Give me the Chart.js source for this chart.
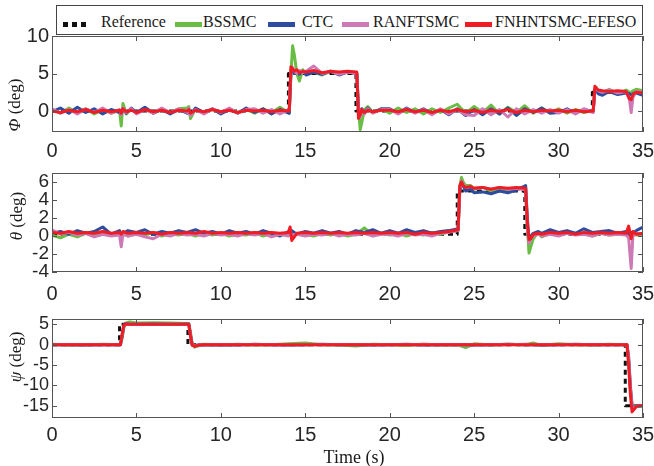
<!DOCTYPE html>
<html>
<head>
<meta charset="utf-8">
<script src="https://cdn.jsdelivr.net/npm/chart.js@4.4.0/dist/chart.umd.min.js"></script>
<style>
  body { margin: 0; width: 654px; height: 466px; position: relative; overflow: hidden; background: #fff;
         font-family: "Liberation Serif", "Times New Roman", serif; color: #1a1a1a; }
  canvas { position: absolute; left: 0; }
  .ytitle { position: absolute; font-size: 17px; white-space: nowrap; transform: translate(-50%, -50%) rotate(-90deg); }
  .legbox { position: absolute; left: 56px; top: 5px; width: 587px; height: 30px; box-sizing: border-box;
            border: 1px solid #444; background: #fff; }
  .sw { position: absolute; top: 22px; width: 27px; height: 5px; }
  .lt { position: absolute; top: 14px; font-size: 16px; line-height: 1; white-space: nowrap; }
  .xtitle { position: absolute; left: 354px; top: 457px; font-size: 18px; transform: translate(-50%, -50%); white-space: nowrap; }
</style>
</head>
<body>
<canvas id="cPhi" width="654" height="160" style="top:0px"></canvas>
<canvas id="cTheta" width="654" height="142" style="top:160px"></canvas>
<canvas id="cPsi" width="654" height="164" style="top:302px"></canvas>

<div class="legbox"></div>
<div class="sw" style="left:63px;background:repeating-linear-gradient(to right,#111 0 5px,transparent 5px 9px)"></div>
<div class="lt" style="left:101px">Reference</div>
<div class="sw" style="left:175px;background:#69bd45"></div>
<div class="lt" style="left:203px">BSSMC</div>
<div class="sw" style="left:268px;background:#2e4c9f"></div>
<div class="lt" style="left:302px">CTC</div>
<div class="sw" style="left:342px;background:#cc79b5"></div>
<div class="lt" style="left:373px">RANFTSMC</div>
<div class="sw" style="left:465px;background:#ee1d25"></div>
<div class="lt" style="left:495px">FNHNTSMC-EFESO</div>

<div class="ytitle" style="left:15px;top:105px"><i>Φ</i> (deg)</div>
<div class="ytitle" style="left:17px;top:216px"><i>θ</i> (deg)</div>
<div class="ytitle" style="left:16px;top:357px"><i>ψ</i> (deg)</div>
<div class="xtitle">Time (s)</div>

<script>
// nombres y colores de las series
const seriesNames = ['Reference', 'BSSMC', 'CTC', 'RANFTSMC', 'FNHNTSMC-EFESO'];
const seriesColors = ['#111111', '#69bd45', '#2e4c9f', '#cc79b5', '#ee1d25'];

// ticks
const xTicks = [0, 5, 10, 15, 20, 25, 30, 35];
const phiTicks = [0, 5, 10];
const thetaTicks = [-4, -2, 0, 2, 4, 6];
const psiTicks = [-15, -10, -5, 0, 5];

// ---- Phi ----
const phiRefTime = [0, 14, 14, 18, 18, 32, 32, 35];
const phiRef = [0, 0, 5, 5, 0, 0, 2.5, 2.5];
const phiTime = [
  0, 0.5, 1, 1.5, 2, 2.5, 3, 3.5,
  4, 4.1, 4.2, 4.4, 4.7, 5, 5.5, 6, 6.5, 7, 7.5,
  8, 8.1, 8.2, 8.5, 9, 9.5, 10, 10.5, 11, 11.5,
  12, 12.5, 13, 13.5, 14.05,
  14.15, 14.25, 14.35, 14.5, 14.65, 14.85, 15.05, 15.5, 16, 16.5, 17, 17.5, 18.05,
  18.15, 18.25, 18.35, 18.5, 18.7, 19, 19.5,
  20, 20.5, 21, 21.5, 22, 22.5, 23, 23.5, 24, 24.5,
  25, 25.5, 26, 26.5, 27, 27.5, 28, 28.5, 29, 29.5,
  30, 30.5, 31, 31.5, 32.05,
  32.15, 32.25, 32.35, 32.6, 33, 33.5, 34, 34.2, 34.3, 34.4, 34.6, 35
];
const phiBSSMC = [
  0.2, -0.3, 0.4, -0.2, 0.3, -0.4, 0.2, -0.3,
  0.1, -2.0, 1.0, -0.4, 0.3, -0.2, 0.3, -0.3, 0.2, -0.2, 0.3,
  0.4, 0.6, -1.0, 0.3, -0.3, 0.2, -0.3, 0.3, -0.2, 0.2,
  -0.3, 0.3, -0.2, 0.5, -0.3,
  5.0, 8.7, 7.5, 5.0, 4.0, 5.5, 4.9, 5.2, 4.8, 5.3, 4.9, 5.2, 5.1,
  0.5, -2.5, -1.5, 0.2, 0.6, -0.2, 0.3,
  -0.3, 0.4, -0.2, 0.3, -0.4, 0.3, -0.2, 0.4, 0.9, -0.3,
  0.6, -0.2, 0.8, -0.4, 0.5, -0.2, 0.7, -0.3, 0.4, -0.2,
  0.3, -0.3, 0.2, -0.2, 0.1,
  2.8, 3.1, 2.6, 2.4, 2.9, 2.3, 2.8, 2.5, 2.4, 2.7, 2.9, 2.7
];
const phiCTC = [
  -0.1, 0.4, -0.3, 0.5, -0.2, 0.3, -0.4, 0.2,
  -0.2, -0.4, 0.3, -0.3, 0.4, -0.2, 0.5, -0.3, 0.2, -0.4, 0.2,
  -0.3, 0.1, -0.5, 0.4, -0.2, 0.3, -0.4, 0.2, -0.3, 0.4,
  -0.2, 0.3, -0.4, 0.2, -0.3,
  5.0, 5.4, 5.0, 5.3, 4.9, 5.3, 4.8, 5.2, 4.9, 5.3, 4.8, 5.2, 5.0,
  0.5, -0.4, 0.3, -0.3, 0.4, -0.2, 0.3,
  0.3, -0.3, 0.4, -0.2, 0.3, -0.4, 0.2, -0.5, 0.3, -0.6,
  0.2, -0.5, 0.3, -0.4, 0.4, -0.6, 0.3, -0.2, 0.4, -0.3,
  -0.2, 0.3, -0.3, 0.2, -0.1,
  2.6, 2.8, 2.3, 2.1, 2.6, 2.2, 2.4, 2.3, 2.1, 2.3, 2.4, 2.1
];
const phiRANFTSMC = [
  0.3, -0.3, 0.2, -0.4, 0.3, -0.2, 0.4, -0.3,
  0.2, -0.5, 0.4, -0.2, 0.3, -0.4, 0.2, -0.3, 0.4, -0.2, 0.3,
  -0.2, 0.4, -0.6, 0.2, -0.4, 0.3, -0.2, 0.4, -0.3, 0.2,
  0.3, -0.3, 0.2, -0.4, 0.2,
  5.5, 5.8, 5.3, 5.0, 5.4, 5.1, 5.3, 6.0, 5.0, 5.3, 4.9, 5.2, 5.0,
  0.0, -0.8, 0.2, -0.4, 0.3, -0.3, 0.2,
  0.2, -0.4, 0.3, -0.3, 0.2, -0.5, 0.3, -0.4, 0.2, -0.5,
  -0.6, 0.3, -0.5, 0.2, -0.8, 0.3, -0.4, 0.2, -0.3, 0.2,
  -0.3, 0.2, -0.4, 0.3, -0.2,
  3.0, 2.9, 2.7, 2.5, 2.8, 2.4, 2.6, 1.5, -0.2, 1.8, 2.6, 2.5
];
const phiFNHNTSMC = [
  0.0, -0.2, 0.1, -0.1, 0.2, -0.2, 0.1, -0.1,
  0.1, -0.3, 0.3, -0.1, 0.1, -0.2, 0.2, -0.1, 0.1, -0.2, 0.1,
  0.0, 0.2, -0.3, 0.1, -0.1, 0.2, -0.1, 0.1, -0.2, 0.1,
  0.0, 0.1, -0.1, 0.1, 0.0,
  5.9, 5.6, 5.3, 5.5, 5.1, 5.3, 5.2, 5.4, 5.1, 5.3, 5.2, 5.3, 5.2,
  -1.0, -0.5, 0.2, -0.2, 0.1, -0.1, 0.1,
  0.1, -0.1, 0.2, -0.1, 0.1, -0.2, 0.1, -0.1, 0.2, -0.1,
  0.1, -0.2, 0.1, -0.1, 0.2, -0.2, 0.1, -0.1, 0.1, 0.0,
  0.1, -0.1, 0.1, -0.1, 0.0,
  3.3, 3.0, 2.8, 2.7, 2.6, 2.7, 2.6, 1.6, 1.5, 2.2, 2.5, 2.4
];

// ---- Theta ----
const thetaRefTime = [0, 24, 24, 28, 28, 35];
const thetaRef = [0.2, 0.2, 5, 5, 0.2, 0.2];
const thetaTime = [
  0, 0.5, 1, 1.5, 2, 2.5, 3, 3.5,
  4, 4.1, 4.2, 4.5, 5, 5.5, 6, 6.5, 7, 7.5,
  8, 8.5, 9, 9.5, 10, 10.5, 11, 11.5,
  12, 12.5, 13, 13.5, 14, 14.1, 14.2, 14.5, 15, 15.5,
  16, 16.5, 17, 17.5, 18, 18.5, 19, 19.5,
  20, 20.5, 21, 21.5, 22, 22.5, 23, 23.5, 24.05,
  24.15, 24.25, 24.35, 24.5, 24.8, 25, 25.5, 26, 26.5, 27, 27.5, 28.05,
  28.15, 28.25, 28.35, 28.5, 28.8, 29, 29.5,
  30, 30.5, 31, 31.5, 32, 32.5, 33, 33.5,
  34, 34.15, 34.3, 34.4, 34.6, 35
];
const thetaBSSMC = [
  0.1, -0.2, 0.2, -0.1, 0.3, 0.0, 0.2, 0.1,
  0.2, -0.3, 0.4, 0.0, 0.3, 0.1, 0.4, 0.0, 0.3, 0.1,
  0.3, 0.0, 0.4, 0.1, 0.3, 0.0, 0.2, 0.1,
  0.4, 0.0, 0.3, 0.1, 0.2, 0.4, 0.1, 0.3, 0.2, 0.0,
  0.3, 0.1, 0.3, 0.0, 0.2, 0.9, 0.1, 0.3,
  0.1, 0.3, 0.0, 0.3, 0.1, 0.4, 0.2, 0.5, 0.6,
  5.5, 6.5, 6.0, 5.6, 5.6, 5.2, 5.4, 5.0, 5.3, 5.1, 5.3, 5.4,
  1.0, -1.9, -1.2, -0.3, 0.4, -0.1, 0.3,
  0.1, 0.4, 0.2, 0.3, 0.0, 0.3, 0.1, 0.2,
  0.3, 0.0, 0.2, 0.4, 0.1, 0.2
];
const thetaCTC = [
  0.3, 0.5, 0.2, 0.6, 0.3, 0.5, 1.0, 0.2,
  0.6, 0.0, 0.3, 0.6, 0.4, 0.7, 0.2, 0.5, 0.3, 0.6,
  0.4, 0.7, 0.3, 0.5, 0.2, 0.6, 0.3, 0.5,
  0.2, 0.6, 0.3, 0.0, 0.5, 0.3, 0.6, 0.2, 0.5, 0.3,
  0.6, 0.3, 0.5, 0.2, 0.6, 0.4, 0.7, 0.3,
  0.6, 0.3, 0.7, 0.4, 0.6, 0.3, 0.5, 0.6, 0.8,
  5.0, 5.8, 5.6, 5.0, 5.2, 4.8, 4.9, 4.7, 5.0, 4.8, 5.1, 5.6,
  2.0, -0.5, 0.0, 0.3, 0.5, 0.3, 0.7,
  0.4, 0.6, 0.3, 0.8, 0.4, 0.5, 0.6, 0.3,
  0.5, 0.2, 0.4, 0.3, 0.6, 1.0
];
const thetaRANFTSMC = [
  0.7, 0.2, 0.4, 0.1, 0.3, -0.1, 0.2, 0.0,
  0.1, -1.2, 0.2, 0.0, 0.2, -0.1, -0.3, 0.2, 0.0, 0.3,
  0.1, 0.2, 0.0, 0.3, 0.1, 0.2, 0.0, 0.3,
  0.1, 0.3, -0.1, 0.2, 0.0, 0.3, 0.1, 0.2, 0.0, 0.2,
  0.1, 0.3, 0.0, 0.2, 0.1, 0.3, 0.0, 0.2,
  0.2, 0.0, 0.3, 0.1, 0.2, 0.0, 0.3, 0.4, 0.6,
  5.2, 6.1, 5.7, 5.4, 5.5, 5.3, 5.4, 5.2, 5.4, 5.2, 5.3, 5.1,
  0.8, -0.8, -0.3, 0.0, 0.2, 0.0, 0.2,
  0.0, 0.3, 0.1, 0.2, 0.0, 0.3, 0.1, 0.2,
  0.1, -0.2, -3.6, 0.0, 0.3, 0.2
];
const thetaFNHNTSMC = [
  0.4, 0.3, 0.5, 0.3, 0.4, 0.3, 0.5, 0.3,
  0.4, 0.2, 0.5, 0.3, 0.4, 0.3, 0.4, 0.2, 0.4, 0.3,
  0.4, 0.3, 0.5, 0.3, 0.4, 0.3, 0.4, 0.3,
  0.4, 0.3, 0.4, 0.3, 0.4, 1.0, -0.5, 0.3, 0.4, 0.3,
  0.4, 0.3, 0.4, 0.3, 0.4, 0.3, 0.4, 0.3,
  0.4, 0.3, 0.4, 0.2, 0.4, 0.3, 0.4, 0.5, 0.7,
  5.6, 6.0, 5.6, 5.4, 5.5, 5.3, 5.4, 5.2, 5.4, 5.3, 5.4, 5.3,
  1.5, -0.4, -0.3, 0.2, 0.3, 0.2, 0.4,
  0.3, 0.4, 0.2, 0.4, 0.3, 0.4, 0.3, 0.4,
  0.3, 1.1, -0.3, 0.5, 0.2, 0.3
];

// ---- Psi ----
const psiRefTime = [0, 4, 4, 8.05, 8.05, 33.95, 33.95, 35];
const psiRef = [0, 0, 5, 5, 0, 0, -15, -15];
const psiTime = [
  0, 1, 2, 3, 4.05,
  4.15, 4.25, 4.35, 4.6, 5, 6, 7, 8.1,
  8.2, 8.3, 8.45, 8.7, 9, 10, 11, 12, 13, 14, 15, 16, 17, 18, 19,
  20, 21, 22, 23, 24, 24.5, 25, 26, 27, 28, 28.5, 29, 30, 31, 32, 33, 34.05,
  34.15, 34.25, 34.35, 34.45, 34.6, 34.8, 35
];
const psiBSSMC = [
  0.1, -0.1, 0.0, 0.1, 0.0,
  1.5, 4.0, 5.3, 5.6, 5.3, 5.4, 5.3, 5.2,
  3.0, 0.3, -0.6, -0.2, 0.1, -0.1, 0.1, -0.1, 0.0, 0.2, 0.4, 0.0, -0.1, -0.3, 0.1,
  0.0, -0.2, 0.1, -0.1, 0.0, -0.7, 0.2, -0.1, 0.1, 0.0, 0.4, -0.2, 0.2, 0.0, -0.1, 0.1, 0.0,
  -4.0, -11.0, -15.0, -15.3, -15.0, -15.2, -14.8
];
const psiCTC = [
  0.0, 0.0, -0.1, 0.0, 0.0,
  2.0, 4.5, 5.2, 5.1, 5.0, 5.1, 5.0, 5.1,
  2.5, 0.0, -0.3, 0.0, -0.1, 0.0, -0.1, 0.1, 0.0, -0.1, 0.0, 0.1, 0.0, 0.0, -0.1,
  0.0, 0.1, -0.1, 0.0, 0.0, 0.0, -0.1, 0.0, 0.1, 0.0, 0.0, -0.1, 0.0, 0.1, 0.0, 0.0, 0.0,
  -3.0, -10.0, -14.8, -15.6, -15.1, -15.0, -15.0
];
const psiRANFTSMC = [
  0.0, 0.0, 0.0, 0.0, 0.0,
  2.2, 4.6, 5.1, 5.0, 5.0, 5.0, 5.0, 5.0,
  2.4, 0.0, -0.3, -0.1, 0.0, 0.0, 0.0, 0.0, 0.0, 0.0, 0.0, 0.0, 0.0, 0.0, 0.0,
  0.0, 0.0, 0.1, 0.0, 0.0, -0.1, 0.0, 0.0, 0.0, 0.1, 0.0, 0.0, 0.0, 0.0, 0.0, 0.0, 0.0,
  -3.5, -10.5, -15.2, -15.8, -15.2, -15.0, -15.0
];
const psiFNHNTSMC = [
  0.0, 0.0, 0.0, 0.0, 0.0,
  2.5, 4.8, 5.1, 5.0, 5.0, 5.0, 5.0, 5.0,
  2.2, -0.1, -0.4, -0.1, 0.0, 0.0, 0.0, 0.0, 0.0, 0.0, 0.0, 0.0, 0.0, 0.0, 0.0,
  0.0, 0.0, 0.0, 0.0, 0.0, 0.0, 0.0, 0.0, 0.0, 0.0, 0.0, 0.0, 0.0, 0.0, 0.0, 0.0, 0.0,
  -5.0, -12.0, -16.5, -16.0, -15.2, -15.0, -15.0
];

// marco y ticks hacia dentro, estilo MATLAB
const boxPlugin = {
  id: 'matlabBox',
  afterDraw(chart) {
    const { ctx, chartArea: a, scales: { x, y } } = chart;
    ctx.save();
    ctx.strokeStyle = '#555';
    ctx.lineWidth = 1;
    ctx.beginPath();
    x.ticks.forEach(t => {
      const px = Math.round(x.getPixelForValue(t.value)) + 0.5;
      ctx.moveTo(px, a.bottom); ctx.lineTo(px, a.bottom - 5);
      ctx.moveTo(px, a.top); ctx.lineTo(px, a.top + 5);
    });
    y.ticks.forEach(t => {
      const py = Math.round(y.getPixelForValue(t.value)) + 0.5;
      ctx.moveTo(a.left, py); ctx.lineTo(a.left + 5, py);
      ctx.moveTo(a.right, py); ctx.lineTo(a.right - 5, py);
    });
    ctx.stroke();
    ctx.strokeRect(Math.round(a.left) + 0.5, Math.round(a.top) + 0.5, Math.round(a.width) - 1, Math.round(a.height) - 1);
    ctx.restore();
  }
};

function toPoints(time, vals) {
  return time.map((t, i) => ({ x: t, y: vals[i] }));
}

function makeChart(id, cfg) {
  const datasets = [
    { label: seriesNames[0], data: toPoints(cfg.refTime, cfg.ref), borderColor: seriesColors[0], borderWidth: 3, borderDash: [5, 4], order: 4 },
    { label: seriesNames[1], data: toPoints(cfg.time, cfg.series[0]), borderColor: seriesColors[1], borderWidth: 3, order: 3 },
    { label: seriesNames[2], data: toPoints(cfg.time, cfg.series[1]), borderColor: seriesColors[2], borderWidth: 3, order: 2 },
    { label: seriesNames[3], data: toPoints(cfg.time, cfg.series[2]), borderColor: seriesColors[3], borderWidth: 3, order: 1 },
    { label: seriesNames[4], data: toPoints(cfg.time, cfg.series[3]), borderColor: seriesColors[4], borderWidth: 3, order: 0 }
  ];
  datasets.forEach(d => { d.pointRadius = 0; d.tension = 0; d.fill = false; d.borderJoinStyle = 'round'; });

  new Chart(document.getElementById(id), {
    type: 'line',
    data: { datasets },
    options: {
      responsive: false,
      animation: false,
      events: [],
      layout: { padding: { top: cfg.padTop, right: 11, left: 0, bottom: 0 } },
      plugins: { legend: { display: false }, tooltip: { enabled: false } },
      scales: {
        x: {
          type: 'linear', min: 0, max: 35,
          grid: { display: false, drawTicks: false },
          border: { display: false },
          ticks: { font: { family: 'Liberation Sans, Arial, sans-serif', size: 20 }, color: '#262626', padding: cfg.xPad, maxRotation: 0, autoSkip: false },
          afterBuildTicks: s => { s.ticks = xTicks.map(v => ({ value: v })); },
          afterFit: s => { s.height = cfg.xAxisH; s.paddingLeft = 0; s.paddingRight = 0; }
        },
        y: {
          type: 'linear', min: cfg.yMin, max: cfg.yMax,
          grid: { display: false, drawTicks: false },
          border: { display: false },
          ticks: { font: { family: 'Liberation Sans, Arial, sans-serif', size: cfg.yFont }, color: '#262626', padding: 3, autoSkip: false },
          afterBuildTicks: s => { s.ticks = cfg.yTicks.map(v => ({ value: v })); },
          afterFit: s => { s.width = 52; s.paddingTop = 0; s.paddingBottom = 0; }
        }
      }
    },
    plugins: [boxPlugin]
  });
}

makeChart('cPhi', {
  time: phiTime, refTime: phiRefTime, ref: phiRef,
  series: [phiBSSMC, phiCTC, phiRANFTSMC, phiFNHNTSMC],
  yMin: -2.8, yMax: 10, yTicks: phiTicks, yFont: 20,
  padTop: 36, xAxisH: 28, xPad: 7
});
makeChart('cTheta', {
  time: thetaTime, refTime: thetaRefTime, ref: thetaRef,
  series: [thetaBSSMC, thetaCTC, thetaRANFTSMC, thetaFNHNTSMC],
  yMin: -4, yMax: 7, yTicks: thetaTicks, yFont: 19,
  padTop: 13, xAxisH: 30, xPad: 10
});
makeChart('cPsi', {
  time: psiTime, refTime: psiRefTime, ref: psiRef,
  series: [psiBSSMC, psiCTC, psiRANFTSMC, psiFNHNTSMC],
  yMin: -18, yMax: 6.3, yTicks: psiTicks, yFont: 18,
  padTop: 17, xAxisH: 48, xPad: 5
});
</script>
</body>
</html>
